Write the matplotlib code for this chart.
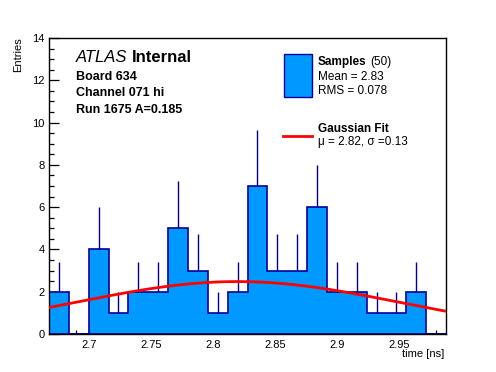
import numpy as np
import matplotlib
matplotlib.use("Agg")
import matplotlib.pyplot as plt
from matplotlib.ticker import MultipleLocator, FormatStrFormatter
from matplotlib.patches import Rectangle
from matplotlib.lines import Line2D

plt.rcParams['font.family'] = ['Liberation Sans', 'DejaVu Sans']

# ---- data ----
x_min, x_max = 2.668, 2.988
n_bins = 20
counts = [2, 0, 4, 1, 2, 2, 5, 3, 1, 2, 7, 3, 3, 6, 2, 2, 1, 1, 2, 0]
errors = [1.41, 0, 2.0, 1.0, 1.41, 1.41, 2.24, 1.73, 1.0, 1.41,
          2.65, 1.73, 1.73, 2.0, 1.41, 1.41, 1.0, 1.0, 1.41, 0]
fit_mu, fit_sigma, fit_amp = 2.82, 0.13, 2.48

title_lines = ["Board 634", "Channel 071 hi", "Run 1675 A=0.185"]
legend_samples = ("Samples", "(50)", "Mean = 2.83", "RMS = 0.078")
legend_fit = ("Gaussian Fit", "\u03bc = 2.82, \u03c3 =0.13")

fill_col = "#0099ff"
edge_col = "#000099"
red = "#ff0000"

W, H = 496, 372
fig = plt.figure(figsize=(W / 100, H / 100), dpi=100)
ax = fig.add_axes([49 / W, 1 - 334 / H, (446 - 49) / W, (334 - 38) / H])

edges = np.linspace(x_min, x_max, n_bins + 1)
centers = 0.5 * (edges[:-1] + edges[1:])

ax.hist(centers, bins=edges, weights=counts, histtype='stepfilled',
        facecolor=fill_col, edgecolor=edge_col, linewidth=1.2, zorder=2)
for c, n, e in zip(centers, counts, errors):
    if n > 0:
        ax.vlines(c, n, n + e, color=edge_col, linewidth=1.0, zorder=3)

xs = np.linspace(x_min, x_max, 400)
ax.plot(xs, fit_amp * np.exp(-0.5 * ((xs - fit_mu) / fit_sigma) ** 2),
        color=red, linewidth=2.0, zorder=4)

ax.set_xlim(x_min, x_max)
ax.set_ylim(0, 14)
ax.xaxis.set_major_locator(MultipleLocator(0.05))
ax.xaxis.set_minor_locator(MultipleLocator(0.01))
ax.xaxis.set_major_formatter(FormatStrFormatter('%g'))
ax.yaxis.set_major_locator(MultipleLocator(2))
ax.yaxis.set_minor_locator(MultipleLocator(0.5))
ax.tick_params(axis='both', which='both', direction='in', top=False, right=False,
               labelsize=8, width=0.9, color='black')
ax.tick_params(axis='x', which='major', length=6, pad=4)
ax.tick_params(axis='x', which='minor', length=3)
ax.tick_params(axis='y', which='major', length=7, pad=3)
ax.tick_params(axis='y', which='minor', length=3.5)
for s in ax.spines.values():
    s.set_linewidth(1.0)

fig.text(444 / W, 1 - 357 / H, "time [ns]", ha='right', va='baseline', fontsize=8)
fig.text(18 / W, 1 - 37 / H, "Entries", rotation=90, ha='center', va='top', fontsize=8)

# ATLAS label
fig.text(76 / W, 1 - 62 / H, "ATLAS", fontsize=12, style='italic', va='baseline')
fig.text(132 / W, 1 - 62 / H, "Internal", fontsize=12, fontweight='bold', va='baseline')
for i, t in enumerate(title_lines):
    fig.text(76 / W, 1 - (79.5 + 16.8 * i) / H, t, fontsize=9, fontweight='bold',
             va='baseline')

# legend
fig.add_artist(Rectangle((283.5 / W, 1 - 96.5 / H), 28 / W, 43 / H,
                         transform=fig.transFigure, facecolor=fill_col,
                         edgecolor=edge_col, linewidth=1.0))
fig.text(317.5 / W, 1 - 65 / H, legend_samples[0], fontsize=8.5, fontweight='bold', va='baseline')
fig.text(370 / W, 1 - 65 / H, legend_samples[1], fontsize=8.5, va='baseline')
fig.text(317.5 / W, 1 - 79.5 / H, legend_samples[2], fontsize=8.5, va='baseline')
fig.text(317.5 / W, 1 - 93.5 / H, legend_samples[3], fontsize=8.5, va='baseline')

fig.add_artist(Line2D([283 / W, 311.5 / W], [1 - 136 / H, 1 - 136 / H],
                      transform=fig.transFigure, color=red, linewidth=2))
fig.text(317.5 / W, 1 - 132.5 / H, legend_fit[0], fontsize=8.5, fontweight='bold', va='baseline')
fig.text(317.5 / W, 1 - 145.5 / H, legend_fit[1], fontsize=8.5, va='baseline')

fig.savefig("out.png", dpi=100)
